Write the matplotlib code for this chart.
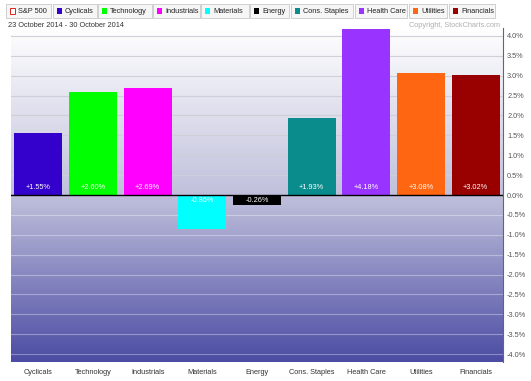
import numpy as np
import matplotlib.pyplot as plt
from matplotlib.patches import Rectangle
from matplotlib.colors import LinearSegmentedColormap

plt.rcParams["font.family"] = ["Liberation Sans", "DejaVu Sans"]

sectors = ["Cyclicals", "Technology", "Industrials", "Materials", "Energy",
           "Cons. Staples", "Health Care", "Utilities", "Financials"]
changes = [1.55, 2.60, 2.69, -0.86, -0.26, 1.93, 4.18, 3.08, 3.02]
colors = ["#3300cc", "#00ff00", "#ff00ff", "#00ffff", "#000000",
          "#0a8c8c", "#9933ff", "#ff6611", "#990000"]
yticks = np.arange(-4.0, 4.01, 0.5)

W, H = 531, 381
fs = 5.3
fig = plt.figure(figsize=(W / 100, H / 100), dpi=100)
fig.patch.set_facecolor("white")

def fx(px):
    return px / W

def fy(py):
    return 1 - py / H

ax = fig.add_axes([fx(11), fy(362), fx(503 - 11), (362 - 28) / H])
ymin, ymax = -4.2, 4.2
x = np.arange(len(sectors))

# background gradient
cmap = LinearSegmentedColormap.from_list(
    "bg", [(0.0, "#4c4ca4"), (0.5, "#c0c0dc"), (1.0, "#ffffff")])
grad = np.linspace(0, 1, 256).reshape(-1, 1)
ax.imshow(grad, aspect="auto", cmap=cmap, origin="lower",
          extent=[-0.5, len(sectors) - 0.5, ymin, ymax], zorder=0)

for t in yticks:
    if t > 0:
        ax.axhline(t, color="#cfcfd8", lw=0.8, zorder=1)
    elif t < 0:
        ax.axhline(t, color="white", alpha=0.35, lw=0.8, zorder=1)

ax.bar(x, changes, width=0.88, color=colors, zorder=2)
ax.axhline(0, color="black", lw=1.0, zorder=3)

for xi, v in zip(x, changes):
    if v >= 0:
        ax.text(xi, 0.1, f"+{v:.2f}%", ha="center", va="bottom",
                fontsize=fs, color="white", zorder=4)
    else:
        ax.text(xi, -0.05, f"{v:.2f}%", ha="center", va="top",
                fontsize=fs, color="white", zorder=4)

ax.set_xlim(-0.5, len(sectors) - 0.5)
ax.set_ylim(ymin, ymax)
ax.set_xticks(x)
ax.set_xticklabels(sectors, fontsize=fs, color="#333333")
ax.tick_params(axis="x", length=0, pad=5)
ax.yaxis.tick_right()
ax.set_yticks(yticks)
ax.set_yticklabels([f"{t:.1f}%" for t in yticks], fontsize=fs, color="#555555")
ax.tick_params(axis="y", length=0, pad=3)
for s in ["top", "left", "bottom"]:
    ax.spines[s].set_visible(False)
ax.spines["right"].set_color("#666666")
ax.spines["right"].set_linewidth(0.8)

# legend strip
legend_names = ["S&P 500"] + sectors
legend_colors = [None] + colors
boxes = [(6, 51), (53, 97), (98, 152), (153, 200), (201, 249), (250, 289),
         (291, 353), (355, 407), (409, 447), (449, 495)]
for (x0, x1), name, c in zip(boxes, legend_names, legend_colors):
    fig.add_artist(Rectangle((fx(x0), fy(18)), fx(x1 - x0), 14 / H,
                             transform=fig.transFigure, facecolor="#f6f6f6",
                             edgecolor="#c8c8c8", lw=0.6))
    if c is None:
        fig.add_artist(Rectangle((fx(x0 + 4), fy(13.5)), fx(5), 5 / H,
                                 transform=fig.transFigure, facecolor="white",
                                 edgecolor="#dd2222", lw=0.7))
    else:
        fig.add_artist(Rectangle((fx(x0 + 4), fy(13.5)), fx(5), 5 / H,
                                 transform=fig.transFigure, facecolor=c,
                                 edgecolor="none"))
    fig.text(fx(x0 + 12), fy(11.5), name, fontsize=fs, color="#222222",
             va="center", ha="left")

fig.text(fx(8), fy(25.5), "23 October 2014 - 30 October 2014", fontsize=fs,
         color="#333333", va="center")
fig.text(fx(500), fy(25.5), "Copyright, StockCharts.com", fontsize=fs,
         color="#b0b0b0", va="center", ha="right")

fig.savefig("out.png", dpi=100)
